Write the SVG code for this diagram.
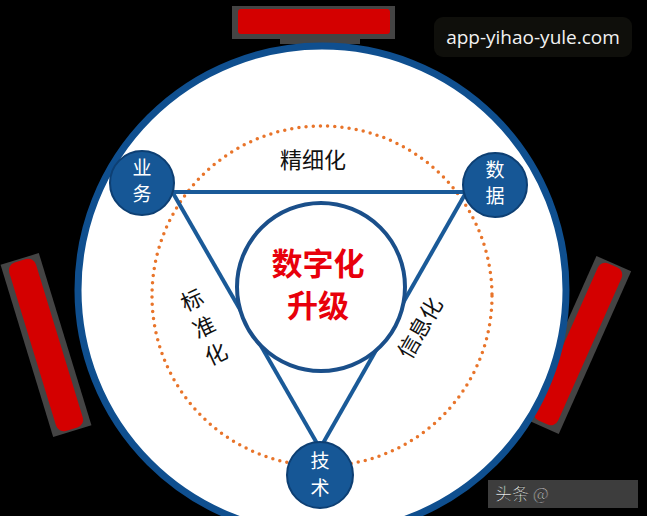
<svg xmlns="http://www.w3.org/2000/svg" width="647" height="516" viewBox="0 0 647 516">
<style>
.node{fill:#165796;stroke:#0d3f73;stroke-width:2}
.nt{font-family:"Noto Sans CJK SC","Noto Sans",sans-serif;font-size:19px;fill:#ffffff;text-anchor:middle}
.lbl{font-family:"Noto Sans CJK SC","Noto Sans",sans-serif;font-size:22px;fill:#111111;text-anchor:middle}
.big{font-family:"Noto Sans CJK SC","Noto Sans",sans-serif;font-size:31px;font-weight:bold;fill:#e8000b;text-anchor:middle}
.red{fill:#d40000}
.grey{fill:#444444}
</style>
<rect width="647" height="516" fill="#000000"/>
<g id="banner-top">
<rect class="grey" x="232" y="6" width="163" height="33"/>
<rect class="grey" x="280" y="38" width="80" height="6"/>
<rect class="red" x="238" y="9" width="152" height="25" rx="3"/>
</g>
<g id="banner-left">
<g transform="translate(46,345) rotate(-17)">
<rect class="grey" x="-20" y="-90" width="40" height="180"/>
<rect class="red" x="-14" y="-88" width="28" height="176" rx="8"/>
</g>
</g>
<g id="banner-right">
<g transform="translate(578,344) rotate(24)">
<rect class="grey" x="-19" y="-88" width="38" height="178"/>
<rect class="red" x="-13" y="-86" width="26" height="172" rx="8"/>
</g>
</g>
<g id="outer">
<circle cx="322" cy="290" r="244" fill="#ffffff" stroke="#0f4f8f" stroke-width="7"/>
<circle cx="322" cy="296" r="170" fill="none" stroke="#e8742a" stroke-width="3.5" stroke-linecap="round" stroke-dasharray="0 7.2"/>
</g>
<g id="connectors" stroke="#1a5a98" stroke-width="4" fill="none">
<line x1="150" y1="192" x2="490" y2="192"/>
<line x1="162" y1="174" x2="322" y2="452"/>
<line x1="476" y1="175" x2="318" y2="452"/>
</g>
<g id="center">
<circle cx="321" cy="287" r="84" fill="#ffffff" stroke="#1a4f8a" stroke-width="4"/>
<text class="big" x="318" y="275">数字化</text>
<text class="big" x="318" y="317">升级</text>
</g>
<g id="labels">
<text class="lbl" x="313" y="168">精细化</text>
<text class="lbl" transform="translate(192,300) rotate(-25)" y="8">标</text>
<text class="lbl" transform="translate(204,327) rotate(-25)" y="8">准</text>
<text class="lbl" transform="translate(216,354) rotate(-25)" y="8">化</text>
<text class="lbl" transform="translate(420,328) rotate(-60)" y="8">信息化</text>
</g>
<g id="node-yewu">
<circle class="node" cx="142" cy="183" r="32"/>
<text class="nt" x="142" y="175">业</text>
<text class="nt" x="142" y="201">务</text>
</g>
<g id="node-shuju">
<circle class="node" cx="495" cy="185" r="32"/>
<text class="nt" x="495" y="177">数</text>
<text class="nt" x="495" y="203">据</text>
</g>
<g id="node-jishu">
<circle class="node" cx="320" cy="475" r="33"/>
<text class="nt" x="320" y="468">技</text>
<text class="nt" x="320" y="495">术</text>
</g>
<g id="watermark">
<rect x="434" y="17" width="198" height="40" rx="9" fill="#0f0f0b"/>
<text x="533" y="44" font-family="Open Sans,Noto Sans,sans-serif" font-size="19" fill="#f2f2f2" text-anchor="middle">app-yihao-yule.com</text>
</g>
<g id="watermark2">
<rect x="488" y="480" width="150" height="28" fill="#666666" opacity="0.6"/>
<text x="495" y="500" font-family="Noto Sans CJK SC,sans-serif" font-size="17" fill="#ffffff" stroke="#222" stroke-width="0.6">头条 @</text>
</g>
</svg>
